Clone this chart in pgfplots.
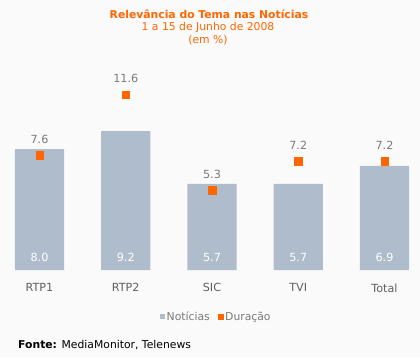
\documentclass[border=0pt]{standalone}
\usepackage{pgfplots}
\pgfplotsset{compat=1.18}
\usepackage{fontspec}
\setmainfont{DejaVu Sans}
\definecolor{bg}{HTML}{FAFAFA}
\definecolor{barc}{HTML}{AFBCCC}
\definecolor{org}{HTML}{FF6600}
\definecolor{lab}{HTML}{7A7A7A}
\definecolor{cat}{HTML}{606060}
\begin{document}
\begin{tikzpicture}[x=1pt,y=1pt]
\useasboundingbox (0,0) rectangle (420,357);
\fill[bg] (0,0) rectangle (420,357);
\node[text=org, font=\fontsize{10.8}{12}\selectfont\bfseries] at (209,343) {Relevância do Tema nas Notícias};
\node[text=org, font=\fontsize{10.8}{12}\selectfont] at (208,330) {1 a 15 de Junho de 2008};
\node[text=org, font=\fontsize{10.8}{12}\selectfont] at (208,317) {(em \%)};
\node[anchor=west, font=\fontsize{10.8}{12}\selectfont, text=black, inner sep=0pt] at (18,11.5) {\textbf{Fonte:} MediaMonitor, Telenews};
\begin{axis}[
  at={(5pt,87pt)}, anchor=south west, scale only axis,
  width=414pt, height=181.2pt,
  xmin=-0.4, xmax=4.4, ymin=0, ymax=12,
  axis line style={draw=none},
  ytick=\empty,
  xtick={0,1,2,3,4},
  xticklabels={RTP1,RTP2,SIC,TVI,Total},
  major tick length=0pt,
  xticklabel style={font=\fontsize{11.2}{13}\selectfont, text=cat, yshift=-10pt},
  clip=false,
  legend columns=2,
  legend style={at={(0.51,-0.259)}, anchor=center, draw=none, fill=none,
    font=\fontsize{10.8}{12}\selectfont, text=lab,
    /tikz/every even column/.append style={column sep=6pt},
    inner sep=0pt},
  legend image code/.code={\fill[#1] (0pt,-2.5pt) rectangle (5pt,2.5pt);},
]
\addplot[ybar, bar width=49pt, fill=barc, draw=none] coordinates {(0,8.0) (1,9.2) (2,5.7) (3,5.7) (4,6.9)};
\addlegendentry{Notícias}
\addplot[only marks, mark=square*, color=org, fill=org, mark size=3.75pt,
  nodes near coords, point meta=explicit symbolic,
  every node near coord/.style={anchor=center, yshift=16pt, text=lab, font=\fontsize{11.2}{13}\selectfont}]
  coordinates {(0,7.6)[7.6] (1,11.6)[11.6] (2,5.3)[5.3] (3,7.2)[7.2] (4,7.2)[7.2]};
\addlegendentry{Duração}
\addplot[draw=none, mark=none, forget plot,
  nodes near coords, point meta=explicit symbolic,
  every node near coord/.style={anchor=center, yshift=12.5pt, text=white, font=\fontsize{11.2}{13}\selectfont}]
  coordinates {(0,0)[8.0] (1,0)[9.2] (2,0)[5.7] (3,0)[5.7] (4,0)[6.9]};
\end{axis}
\end{tikzpicture}
\end{document}
